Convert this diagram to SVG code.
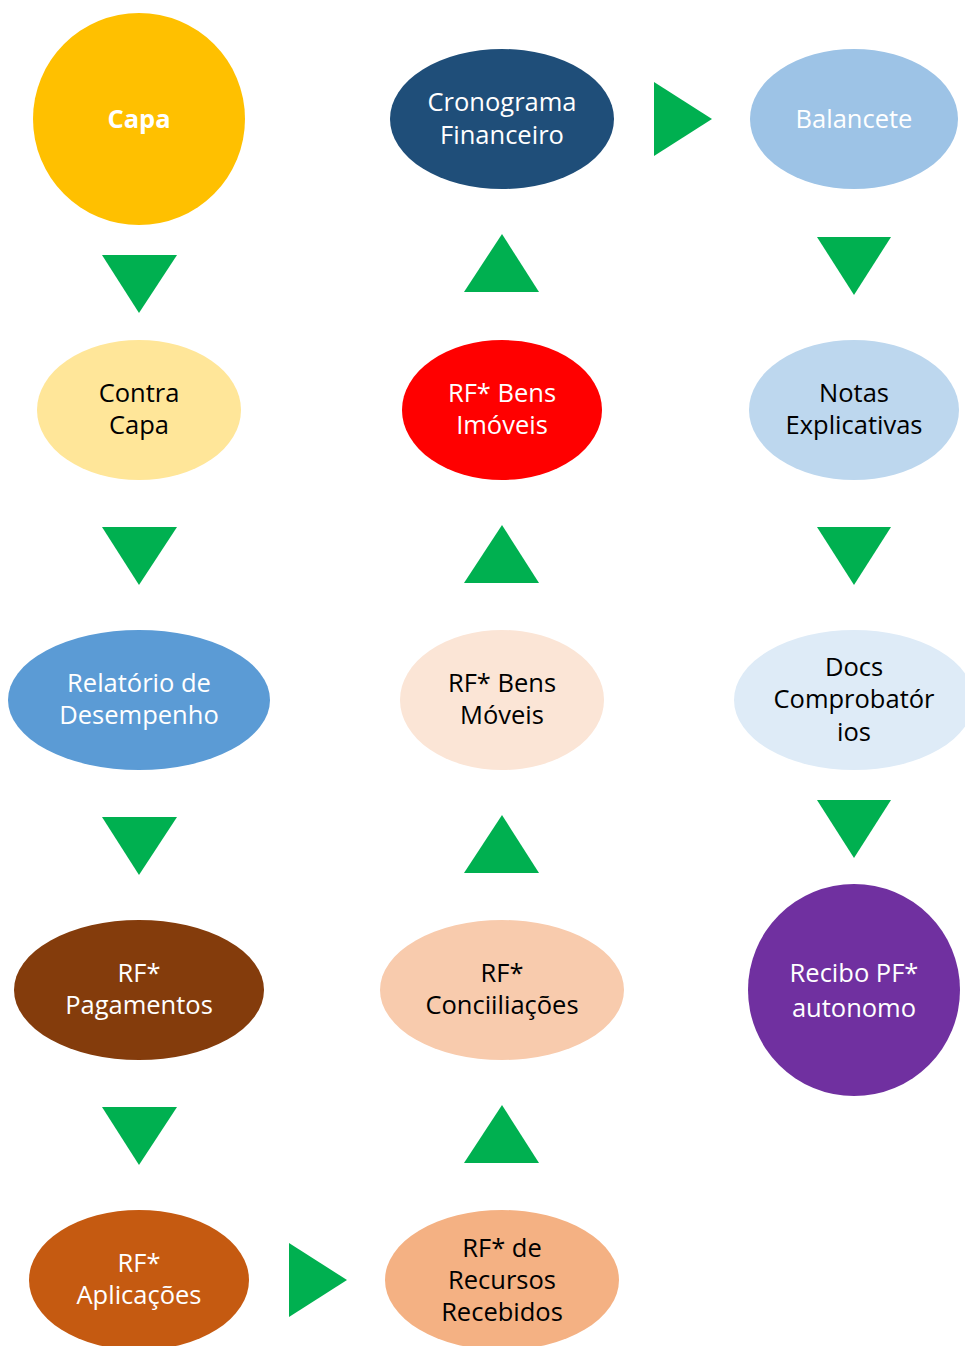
<svg xmlns="http://www.w3.org/2000/svg" width="965" height="1346" viewBox="0 0 965 1346">
<style>
text{font-family:"Open Sans","Noto Sans",sans-serif;font-size:25.5px;text-anchor:middle}
.w{fill:#ffffff}
.k{fill:#000000}
.arr{fill:#00B050}
</style>
<rect width="965" height="1346" fill="#ffffff"/>
<g id="connectors">
<polygon class="arr" points="102,255 177,255 139,313"/>
<polygon class="arr" points="102,527 177,527 139,585"/>
<polygon class="arr" points="102,817 177,817 139,875"/>
<polygon class="arr" points="102,1107 177,1107 139,1165"/>
<polygon class="arr" points="289,1243 289,1317 347,1280"/>
<polygon class="arr" points="464,1163 539,1163 502,1105"/>
<polygon class="arr" points="464,873 539,873 502,815"/>
<polygon class="arr" points="464,583 539,583 502,525"/>
<polygon class="arr" points="464,292 539,292 502,234"/>
<polygon class="arr" points="654,82 654,156 712,119"/>
<polygon class="arr" points="817,237 891,237 854,295"/>
<polygon class="arr" points="817,527 891,527 854,585"/>
<polygon class="arr" points="817,800 891,800 854,858"/>
</g>
<g id="capa">
<circle cx="139" cy="119" r="106" fill="#FFC000"/>
<text class="w" x="139" y="128" font-weight="bold" font-size="26px">Capa</text>
</g>
<g id="contra-capa">
<ellipse cx="139" cy="410" rx="102" ry="70" fill="#FFE699"/>
<text class="k" x="139" y="402">Contra</text>
<text class="k" x="139" y="434">Capa</text>
</g>
<g id="relatorio">
<ellipse cx="139" cy="700" rx="131" ry="70" fill="#5B9BD5"/>
<text class="w" x="139" y="692">Relatório de</text>
<text class="w" x="139" y="724">Desempenho</text>
</g>
<g id="rf-pagamentos">
<ellipse cx="139" cy="990" rx="125" ry="70" fill="#843C0C"/>
<text class="w" x="139" y="982">RF*</text>
<text class="w" x="139" y="1014">Pagamentos</text>
</g>
<g id="rf-aplicacoes">
<ellipse cx="139" cy="1280" rx="110" ry="70" fill="#C55A11"/>
<text class="w" x="139" y="1272">RF*</text>
<text class="w" x="139" y="1304">Aplicações</text>
</g>
<g id="rf-recursos">
<ellipse cx="502" cy="1280" rx="117" ry="70" fill="#F4B183"/>
<text class="k" x="502" y="1257">RF* de</text>
<text class="k" x="502" y="1289">Recursos</text>
<text class="k" x="502" y="1321">Recebidos</text>
</g>
<g id="rf-conciliacoes">
<ellipse cx="502" cy="990" rx="122" ry="70" fill="#F8CBAD"/>
<text class="k" x="502" y="982">RF*</text>
<text class="k" x="502" y="1014">Conciiliações</text>
</g>
<g id="rf-bens-moveis">
<ellipse cx="502" cy="700" rx="102" ry="70" fill="#FBE5D6"/>
<text class="k" x="502" y="692">RF* Bens</text>
<text class="k" x="502" y="724">Móveis</text>
</g>
<g id="rf-bens-imoveis">
<ellipse cx="502" cy="410" rx="100" ry="70" fill="#FF0000"/>
<text class="w" x="502" y="402">RF* Bens</text>
<text class="w" x="502" y="434">Imóveis</text>
</g>
<g id="cronograma">
<ellipse cx="502" cy="119" rx="112" ry="70" fill="#1F4E79"/>
<text class="w" x="502" y="111">Cronograma</text>
<text class="w" x="502" y="144">Financeiro</text>
</g>
<g id="balancete">
<ellipse cx="854" cy="119" rx="104" ry="70" fill="#9DC3E6"/>
<text class="w" x="854" y="128">Balancete</text>
</g>
<g id="notas">
<ellipse cx="854" cy="410" rx="105" ry="70" fill="#BDD7EE"/>
<text class="k" x="854" y="402">Notas</text>
<text class="k" x="854" y="434">Explicativas</text>
</g>
<g id="docs">
<ellipse cx="854" cy="700" rx="120" ry="70" fill="#DEEBF7"/>
<text class="k" x="854" y="676">Docs</text>
<text class="k" x="854" y="708">Comprobatór</text>
<text class="k" x="854" y="741">ios</text>
</g>
<g id="recibo">
<circle cx="854" cy="990" r="106" fill="#7030A0"/>
<text class="w" x="854" y="982" font-size="29px">Recibo PF*</text>
<text class="w" x="854" y="1017" font-size="29px">autonomo</text>
</g>
</svg>
